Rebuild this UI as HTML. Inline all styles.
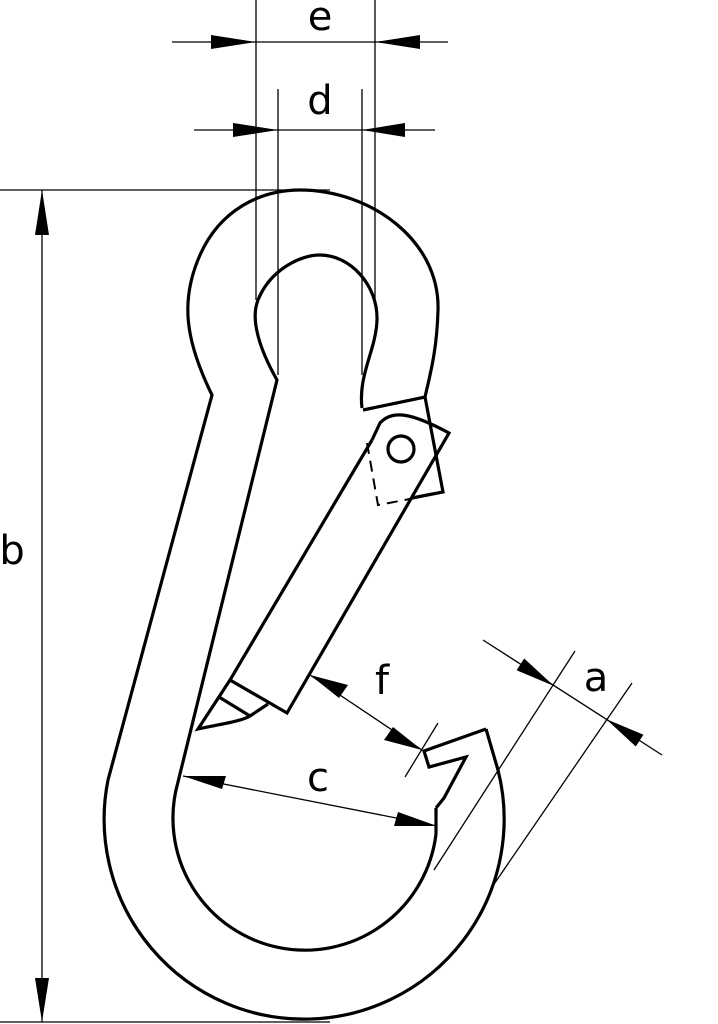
<!DOCTYPE html>
<html><head><meta charset="utf-8"><style>
html,body{margin:0;padding:0;background:#fff;}
svg{display:block;}
text{font-family:"DejaVu Sans","Liberation Sans",sans-serif;font-size:40px;fill:#000;}
</style></head><body>
<svg width="718" height="1024" viewBox="0 0 718 1024" xmlns="http://www.w3.org/2000/svg">
<g stroke="#000" stroke-width="1.3" fill="none">
<line x1="256" y1="0" x2="256" y2="300"/>
<line x1="375" y1="0" x2="375" y2="300"/>
<line x1="172" y1="42" x2="448" y2="42"/>
<line x1="278" y1="89" x2="278" y2="375"/>
<line x1="362" y1="89" x2="362" y2="375"/>
<line x1="194" y1="130" x2="435" y2="130"/>
<line x1="0" y1="190" x2="330" y2="190"/>
<line x1="0" y1="1022" x2="330" y2="1022"/>
<line x1="42" y1="190" x2="42" y2="1022"/>
<line x1="183" y1="776" x2="437" y2="826"/>
<line x1="310" y1="675" x2="422" y2="750"/>
<line x1="405" y1="777" x2="438" y2="723"/>
<line x1="483" y1="640" x2="662" y2="755"/>
<line x1="575" y1="651" x2="434" y2="870"/>
<line x1="632" y1="683" x2="490" y2="890"/>
</g>
<g fill="#000">
<polygon points="256,42 211,35 211,49"/>
<polygon points="375,42 420,35 420,49"/>
<polygon points="278,130 233,123 233,137"/>
<polygon points="362,130 405,123 405,137"/>
<polygon points="42,190 35,235 49,235"/>
<polygon points="42,1022 35,978 49,978"/>
<polygon points="183,776 226,776 222,789"/>
<polygon points="437,826 394,826 398,812"/>
<polygon points="310,675 348,685 339,698"/>
<polygon points="422,750 384,740 393,727"/>
<polygon points="554,686 516.6,670.3 524.2,658.5"/>
<polygon points="606,719 635.8,746.5 643.4,734.7"/>
</g>
<g stroke="#000" stroke-width="3.2" fill="none" stroke-linejoin="miter">
<path d="M486,729 L498,770 A200,200 0 1 1 108,780 L212,395 C185,340 180,300 200,255 C220,210 260,190 300,190 C370,190 440,240 438,310 C437,350 430,375 425,397"/>
<path d="M436,808 L436,834 A132,132 0 1 1 178,782 L277,380 C260,350 250,320 258,300 C270,270 300,255 320,255 C350,255 378,285 377,320 C376,350 358,375 362,408"/>
<path d="M486,729 L424,751 L429,767 L466,757 L444,798 L436,808"/>
<path d="M363,410 L425,397 L443,492 L412,498"/>
<path d="M372,440 L380,423 C392,410 410,412 449,433 L287,713 L230,680 L372,440"/>
<path d="M230,680 L198,729 C215,725 240,722 250,716 L268,704"/>
<path d="M219,697 L250,716"/>
<circle cx="401" cy="449" r="13"/>
</g>
<path d="M367,443 L378,505 L410,499" stroke="#000" stroke-width="2" fill="none" stroke-dasharray="11,7"/>
<text x="320" y="30" text-anchor="middle">e</text>
<text x="320" y="114" text-anchor="middle">d</text>
<text x="12" y="564" text-anchor="middle">b</text>
<text x="318" y="791" text-anchor="middle">c</text>
<text x="382" y="694" text-anchor="middle">f</text>
<text x="596" y="691" text-anchor="middle">a</text>
</svg>
</body></html>
